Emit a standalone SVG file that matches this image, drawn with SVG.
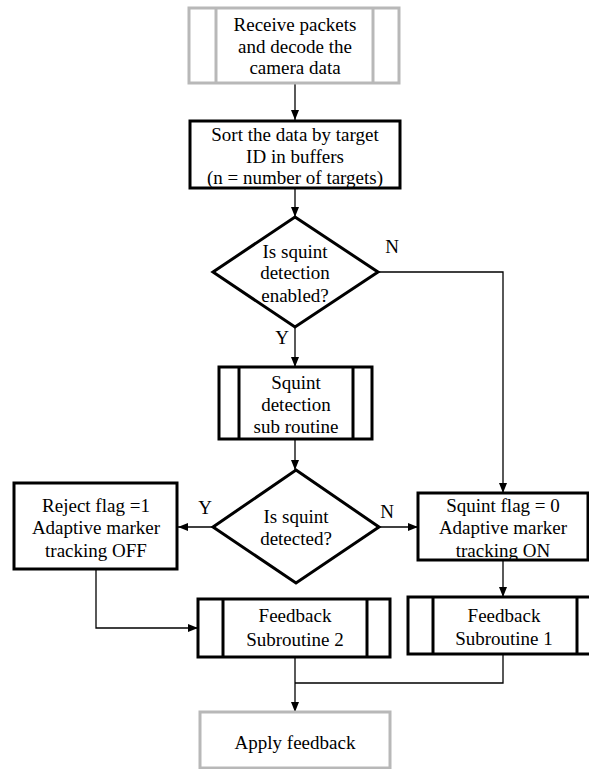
<svg xmlns="http://www.w3.org/2000/svg" width="589" height="769" viewBox="0 0 589 769">
<defs>
<marker id="arr" markerWidth="10" markerHeight="8" refX="10" refY="4" orient="auto" markerUnits="userSpaceOnUse">
<path d="M0,0 L10,4 L0,8 Z" fill="#000"/>
</marker>
<style>
.b{fill:#fff;stroke:#000;stroke-width:3}
.g{fill:#fff;stroke:#b8b8b8;stroke-width:3}
.c{fill:none;stroke:#000;stroke-width:1.3}
.a{marker-end:url(#arr)}
text{font-family:"Liberation Serif","Times New Roman",serif;font-size:19px;fill:#000;text-anchor:middle}
</style>
</defs>
<rect width="589" height="769" fill="#fff"/>
<g id="connectors">
<line class="c a" x1="295" y1="83" x2="295" y2="120"/>
<line class="c a" x1="295" y1="188" x2="295" y2="217"/>
<polyline class="c a" points="378,272 503,272 503,493"/>
<line class="c a" x1="295" y1="327" x2="295" y2="367"/>
<line class="c a" x1="295" y1="439" x2="295" y2="470"/>
<line class="c a" x1="213" y1="527" x2="178" y2="527"/>
<line class="c a" x1="379" y1="527" x2="418" y2="527"/>
<line class="c a" x1="503" y1="560" x2="503" y2="597"/>
<polyline class="c a" points="96,569 96,628 198,628"/>
<line class="c a" x1="295" y1="657" x2="295" y2="712"/>
<polyline class="c" points="503,654 503,683 295,683"/>
<text x="392" y="253">N</text>
<text x="282" y="344">Y</text>
<text x="205" y="514">Y</text>
<text x="387" y="518">N</text>
</g>
<g id="receive">
<rect class="g" x="189" y="8" width="210" height="75"/>
<line class="g" x1="216" y1="8" x2="216" y2="83"/>
<line class="g" x1="373" y1="8" x2="373" y2="83"/>
<text x="295" y="31">Receive packets</text>
<text x="295" y="53">and decode the</text>
<text x="295" y="74">camera data</text>
</g>
<g id="sort">
<rect class="b" x="190" y="121" width="210" height="67"/>
<text x="295" y="141">Sort the data by target</text>
<text x="295" y="163">ID in buffers</text>
<text x="295" y="184">(n = number of targets)</text>
</g>
<g id="enabled">
<polygon class="b" points="295,217 378,272 295,327 213,272"/>
<text x="295" y="258">Is squint</text>
<text x="295" y="279">detection</text>
<text x="295" y="302">enabled?</text>
</g>
<g id="squintsub">
<rect class="b" x="219" y="367" width="153" height="72"/>
<line class="b" x1="239" y1="367" x2="239" y2="439"/>
<line class="b" x1="353" y1="367" x2="353" y2="439"/>
<text x="296" y="389">Squint</text>
<text x="296" y="411">detection</text>
<text x="296" y="433">sub routine</text>
</g>
<g id="detected">
<polygon class="b" points="296,470 379,527 296,583 213,527"/>
<text x="296" y="523">Is squint</text>
<text x="296" y="545">detected?</text>
</g>
<g id="reject">
<rect class="b" x="14" y="483" width="163" height="86"/>
<text x="96" y="512">Reject flag =1</text>
<text x="96" y="534">Adaptive marker</text>
<text x="96" y="557">tracking OFF</text>
</g>
<g id="flag0">
<rect class="b" x="418" y="493" width="170" height="67"/>
<text x="503" y="512">Squint flag = 0</text>
<text x="503" y="534">Adaptive marker</text>
<text x="503" y="557">tracking ON</text>
</g>
<g id="feedback2">
<rect class="b" x="198" y="599" width="192" height="58"/>
<line class="b" x1="223" y1="599" x2="223" y2="657"/>
<line class="b" x1="367" y1="599" x2="367" y2="657"/>
<text x="295" y="622">Feedback</text>
<text x="295" y="646">Subroutine 2</text>
</g>
<g id="feedback1">
<rect class="b" x="408" y="597" width="194" height="57"/>
<line class="b" x1="433" y1="597" x2="433" y2="654"/>
<line class="b" x1="577" y1="597" x2="577" y2="654"/>
<text x="504" y="622">Feedback</text>
<text x="504" y="645">Subroutine 1</text>
</g>
<g id="apply">
<rect class="g" x="200" y="712" width="190" height="56"/>
<text x="295" y="749">Apply feedback</text>
</g>
</svg>
